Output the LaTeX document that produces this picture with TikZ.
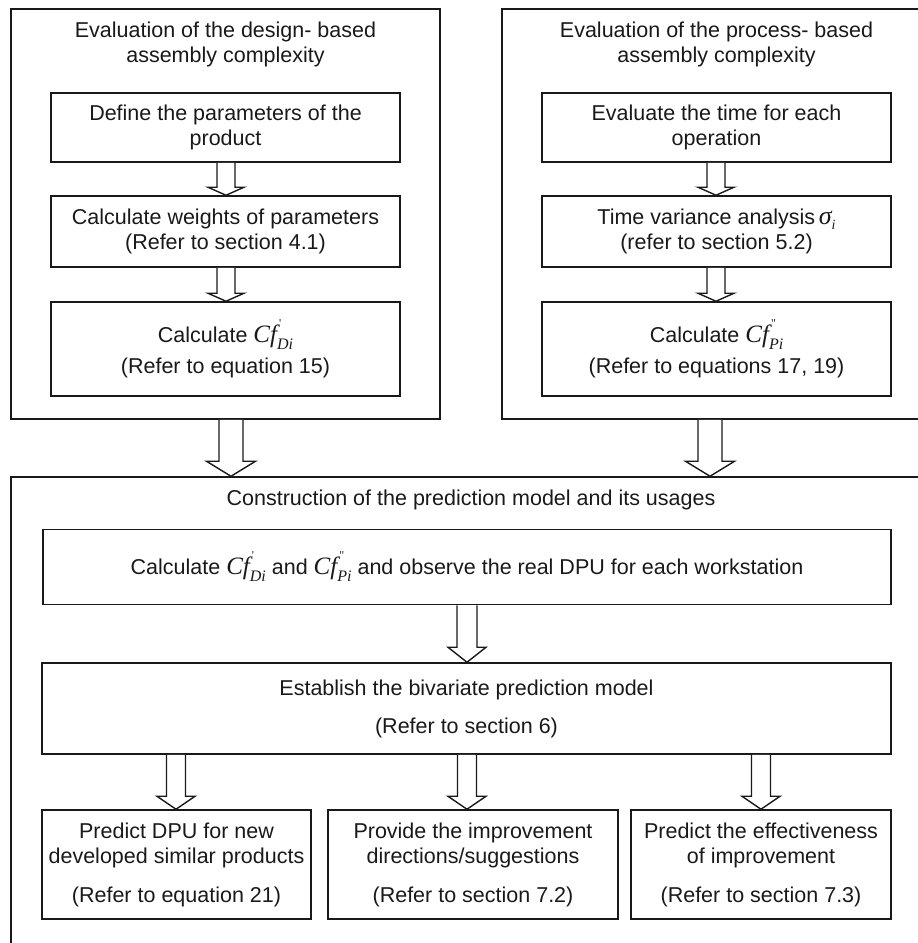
\documentclass[tikz,border=0pt]{standalone}
\usepackage{fontspec}
\setmainfont{Liberation Sans}
\newfontfamily\tms{Liberation Serif}
\usetikzlibrary{calc}

%: \cfx{<prime>}{<index>}
\newcommand{\cfx}[2]{{\tms\itshape\fontsize{25}{25}\selectfont Cf}%
  \rlap{\kern2pt\raisebox{15pt}{\tms\fontsize{12}{12}\selectfont #1}}%
  \raisebox{-7pt}{\tms\itshape\fontsize{16}{16}\selectfont #2}}

\begin{document}
\begin{tikzpicture}[x=1pt,y=-1pt,
  txt/.style={font=\fontsize{21.5}{25}\selectfont,text=black!90,align=center,inner sep=0pt},
  frame/.style={draw=black!90,line width=1.5pt,inner sep=0pt},
  inbox/.style={frame,txt,minimum width=349pt},
  harrow/.style={draw=black!90,fill=white,line width=1.4pt,line join=miter}]

%: \hollow{<x>}{<from>}{<to>}{<stem half>}{<head half>}{<head length>}
\newcommand{\hollow}[6]{%
\draw[harrow] let \p1=(#2), \p2=(#3) in
 ({#1pt-#4pt},\y1) -- ({#1pt-#4pt},\y2+#6pt) -- ({#1pt-#5pt},\y2+#6pt)
 -- (#1pt,\y2) -- ({#1pt+#5pt},\y2+#6pt) -- ({#1pt+#4pt},\y2+#6pt)
 -- ({#1pt+#4pt},\y1);}

\clip (0,0) rectangle (918,943);

% design based part
\node[frame,minimum width=429pt,minimum height=410pt] (dsg) at (225.5,214) {};
\node[txt] (dsgt) at (225.5,44.5) {Evaluation of the design- based\\assembly complexity};
\node[inbox,minimum height=69pt] (d1) at (225.5,127.5) {Define the parameters of the\\product};
\node[inbox,minimum height=71pt] (d2) at (225.5,231.5) {Calculate weights of parameters\\(Refer to section 4.1)};
\node[inbox,minimum height=94pt] (d3) at (225.5,349) {Calculate \cfx{\textquotesingle}{Di}\\[6pt](Refer to equation 15)};

% process based part
\node[frame,minimum width=429pt,minimum height=410pt] (prc) at (716.5,214) {};
\node[txt] (prct) at (716.5,44.5) {Evaluation of the process- based\\assembly complexity};
\node[inbox,minimum height=69pt] (p1) at (716.5,127.5) {Evaluate the time for each\\operation};
\node[inbox,minimum height=71pt] (p2) at (716.5,231.5) {Time variance analysis\,{\tms\itshape\fontsize{26}{26}\selectfont σ}\raisebox{-5pt}{\tms\itshape\fontsize{14}{14}\selectfont i}\\(refer to section 5.2)};
\node[inbox,minimum height=94pt] (p3) at (716.5,349) {Calculate \cfx{\textquotedbl}{Pi}\\[6pt](Refer to equations 17, 19)};

% prediction model
\node[frame,minimum width=920pt,minimum height=483pt] (big) at (471,718.5) {};
\node[txt] (bigt) at (471,500) {Construction of the prediction model and its usages};
\node[frame,txt,minimum width=848pt,minimum height=75pt] (obs) at (467,567)
  {Calculate \cfx{\textquotesingle}{Di} and \cfx{\textquotedbl}{Pi} and observe the real DPU for each workstation};
\node[frame,txt,minimum width=849pt,minimum height=91pt] (est) at (466.5,708.5)
  {Establish the bivariate prediction model\\[13pt](Refer to section 6)};
\node[frame,txt,minimum width=269pt,minimum height=109pt] (u1) at (176.5,864.5)
  {Predict DPU for new\\developed similar products\\[14pt](Refer to equation 21)};
\node[frame,txt,minimum width=290pt,minimum height=109pt] (u2) at (473,864.5)
  {Provide the improvement\\directions/suggestions\\[14pt](Refer to section 7.2)};
\node[frame,txt,minimum width=260pt,minimum height=109pt] (u3) at (761,864.5)
  {Predict the effectiveness\\of improvement\\[14pt](Refer to section 7.3)};

% arrows
\hollow{226}{d1.south}{d2.north}{9}{18}{8}
\hollow{226}{d2.south}{d3.north}{9}{18}{8}
\hollow{716}{p1.south}{p2.north}{9}{18}{8}
\hollow{716}{p2.south}{p3.north}{9}{18}{8}
\hollow{231}{dsg.south}{big.north}{12}{24.5}{15}
\hollow{710}{prc.south}{big.north}{12}{24.5}{15}
\hollow{467}{obs.south}{est.north}{10}{19}{15}
\hollow{176}{est.south}{u1.north}{9.5}{19}{13}
\hollow{467}{est.south}{u2.north}{9.5}{19}{13}
\hollow{761}{est.south}{u3.north}{9.5}{19}{13}
\end{tikzpicture}
\end{document}
